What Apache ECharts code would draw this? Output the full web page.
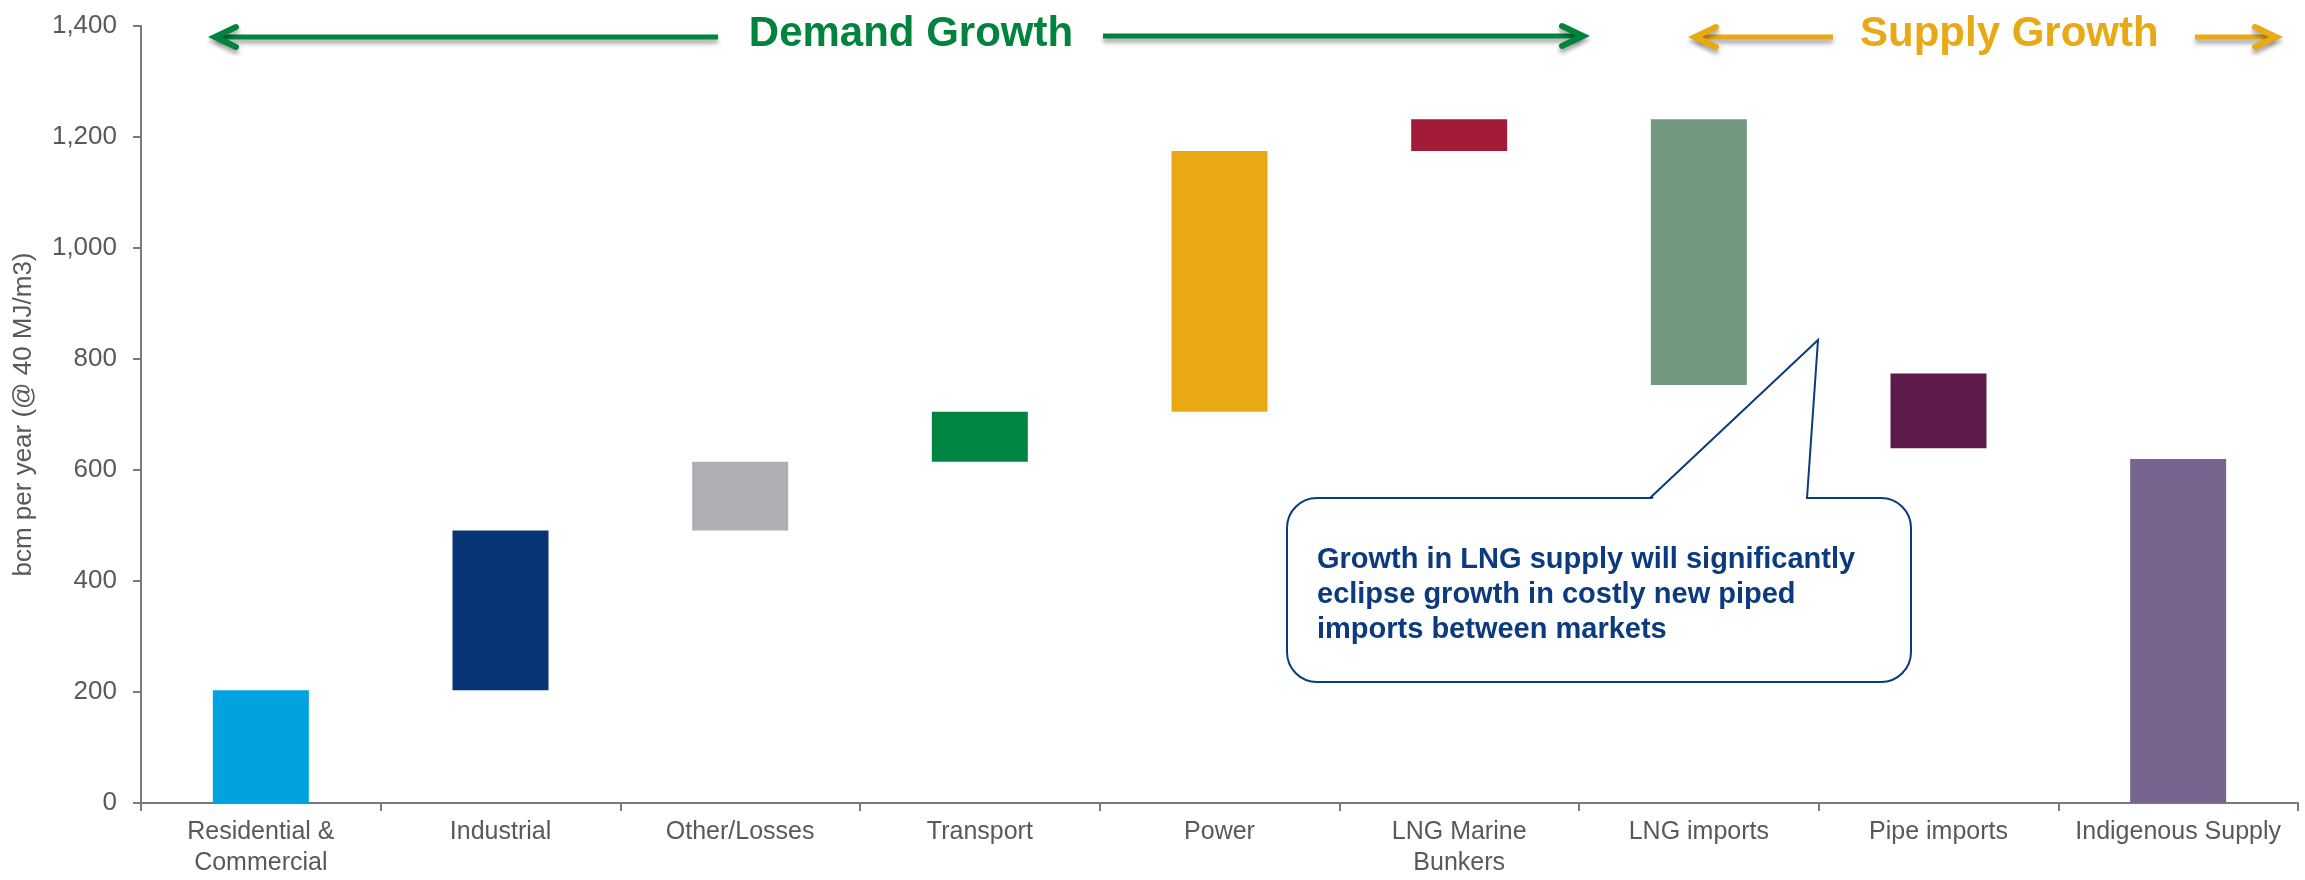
<!DOCTYPE html>
<html>
<head>
<meta charset="utf-8">
<script src="https://cdn.jsdelivr.net/npm/echarts@6/dist/echarts.min.js"></script>
<style>
  html, body { margin: 0; padding: 0; background: #fff; }
  #chart { width: 2305px; height: 880px; }
</style>
</head>
<body>
<div id="chart"></div>
<script>
// categories along the x axis
const categories = [
  "Residential &\nCommercial", "Industrial", "Other/Losses", "Transport",
  "Power", "LNG Marine\nBunkers", "LNG imports", "Pipe imports", "Indigenous Supply"
];
// invisible floor of each waterfall step (bcm)
const baseValues = [0, 203, 491, 615, 705, 1175, 753, 639, 0];
// visible height of each step (bcm)
const stepValues = [203, 288, 124, 90, 470, 57, 479, 135, 620];
const barColors = [
  "#00A3E0", "#083577", "#AEAFB2", "#008542", "#E9A915",
  "#A21B38", "#72997F", "#5D1A4A", "#77658F"
];
const yTicks = [0, 200, 400, 600, 800, 1000, 1200, 1400];

const FONT = "'Liberation Sans', Arial, sans-serif";
const GREEN = "#00843D";
const GOLD = "#E9A915";
const NAVY = "#0B3A7E";
const shadow = { shadowColor: "rgba(0,0,0,0.35)", shadowBlur: 4, shadowOffsetY: 4 };

function arrow(x1, x2, y, color, dir) {
  // dir: -1 head on the left, 1 head on the right
  const tip = dir < 0 ? x1 : x2;
  const back = tip - dir * 21;
  return [
    {
      type: "line", silent: true,
      shape: { x1: x1 + (dir < 0 ? 3 : 0), y1: y, x2: x2 - (dir > 0 ? 3 : 0), y2: y },
      style: Object.assign({ stroke: color, lineWidth: 5 }, shadow)
    },
    {
      type: "polyline", silent: true,
      shape: { points: [[back, y - 10], [tip, y], [back, y + 10]] },
      style: Object.assign({ stroke: color, lineWidth: 6, lineCap: "round", lineJoin: "miter", fill: null }, shadow)
    }
  ];
}

const chart = echarts.init(document.getElementById("chart"));
chart.setOption({
  animation: false,
  backgroundColor: "#fff",
  textStyle: { fontFamily: FONT },
  grid: { left: 141, right: 7, top: 26, bottom: 77, containLabel: false },
  xAxis: {
    type: "category",
    data: categories,
    boundaryGap: true,
    axisLine: { lineStyle: { color: "#7a7a7a", width: 2 } },
    axisTick: { show: true, length: 8, alignWithLabel: false, lineStyle: { color: "#7a7a7a", width: 2 } },
    axisLabel: { interval: 0, margin: 14, color: "#595959", fontSize: 25, lineHeight: 31, fontFamily: FONT }
  },
  yAxis: {
    type: "value",
    min: yTicks[0],
    max: yTicks[yTicks.length - 1],
    interval: 200,
    name: "bcm per year (@ 40 MJ/m3)",
    nameLocation: "middle",
    nameGap: 104,
    nameRotate: 90,
    nameTextStyle: { color: "#595959", fontSize: 26, fontFamily: FONT },
    axisLine: { show: true, lineStyle: { color: "#7a7a7a", width: 2 } },
    axisTick: { show: true, length: 8, lineStyle: { color: "#7a7a7a", width: 2 } },
    splitLine: { show: false },
    axisLabel: {
      margin: 24, color: "#595959", fontSize: 26, fontFamily: FONT,
      formatter: (v) => v.toLocaleString("en-US")
    }
  },
  series: [
    {
      name: "base",
      type: "bar",
      stack: "waterfall",
      barWidth: 96,
      silent: true,
      itemStyle: { color: "transparent" },
      data: baseValues
    },
    {
      name: "step",
      type: "bar",
      stack: "waterfall",
      barWidth: 96,
      data: stepValues.map((v, i) => ({ value: v, itemStyle: { color: barColors[i] } }))
    }
  ],
  graphic: [
    ...arrow(215, 718, 37, GREEN, -1),
    ...arrow(1103, 1583, 36, GREEN, 1),
    ...arrow(1695, 1833, 37, GOLD, -1),
    ...arrow(2195, 2276, 37, GOLD, 1),
    {
      type: "text", silent: true, x: 911, y: 34,
      style: { text: "Demand Growth", fill: GREEN, font: "bold 42px " + FONT, textAlign: "center", textVerticalAlign: "middle" }
    },
    {
      type: "text", silent: true, x: 1860, y: 34,
      style: { text: "Supply Growth", fill: GOLD, font: "bold 42px " + FONT, textAlign: "left", textVerticalAlign: "middle" }
    },
    {
      type: "rect", silent: true, z: 10,
      shape: { x: 1287, y: 498, width: 624, height: 184, r: 30 },
      style: { fill: "#fff", stroke: NAVY, lineWidth: 2 }
    },
    {
      type: "polygon", silent: true, z: 11,
      shape: { points: [[1651, 500], [1818, 340], [1806, 500]] },
      style: { fill: "#fff", stroke: null }
    },
    {
      type: "polyline", silent: true, z: 12,
      shape: { points: [[1650, 498], [1818, 340], [1807, 498]] },
      style: { stroke: NAVY, lineWidth: 2, fill: null }
    },
    {
      type: "text", silent: true, z: 13, x: 1317, y: 542,
      style: {
        text: "Growth in LNG supply will significantly\neclipse growth in costly new piped\nimports between markets",
        fill: NAVY, font: "bold 29px " + FONT, lineHeight: 35,
        textAlign: "left", textVerticalAlign: "top"
      }
    }
  ]
});
</script>
</body>
</html>
